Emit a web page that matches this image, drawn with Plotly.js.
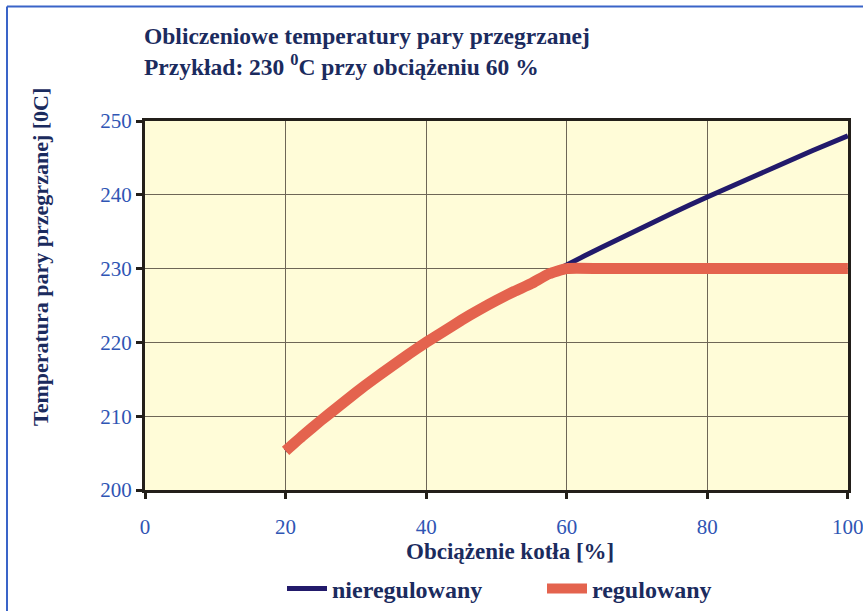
<!DOCTYPE html>
<html>
<head>
<meta charset="utf-8">
<script src="https://cdn.plot.ly/plotly-3.0.1.min.js"></script>
<style>html,body{margin:0;padding:0;background:#fff;}#chart{width:863px;height:611px;}</style>
</head>
<body>
<div id="chart"></div>
<script>
// Data
const loadUnreg = [20, 22.5, 25, 27.5, 30, 32.5, 35, 37.5, 40, 42.5, 45, 47.5, 50, 52.5, 55, 57.5, 60, 65, 70, 75, 80, 85, 90, 95, 100];
const tempUnreg = [205.3, 207.4, 209.4, 211.3, 213.2, 215.0, 216.7, 218.4, 220.0, 221.5, 223.0, 224.4, 225.7, 226.9, 228.1, 229.3, 230.5, 232.9, 235.2, 237.5, 239.7, 241.8, 243.9, 246.0, 248.0];
const loadReg = [20, 22.5, 25, 27.5, 30, 32.5, 35, 37.5, 40, 42.5, 45, 47.5, 50, 52.5, 55, 57.5, 60, 65, 70, 75, 80, 85, 90, 95, 100];
const tempReg = [205.3, 207.4, 209.4, 211.3, 213.2, 215.0, 216.7, 218.4, 220.0, 221.5, 223.0, 224.4, 225.7, 226.9, 228.0, 229.3, 230, 230, 230, 230, 230, 230, 230, 230, 230];
const seriesNames = ["nieregulowany", "regulowany"];
const xTicks = [0, 20, 40, 60, 80, 100];
const yTicks = [200, 210, 220, 230, 240, 250];
const xTitle = "Obciążenie kotła [%]";
const yTitle = "Temperatura pary przegrzanej [0C]";

const navy = "#1b2b5e";
const tickBlue = "#2f55b4";
const serif = "Liberation Serif, DejaVu Serif, serif";

const traces = [
  {x: loadUnreg, y: tempUnreg, name: seriesNames[0], mode: "lines",
   line: {color: "#221a6b", width: 5, shape: "spline", smoothing: 0.6}},
  {x: loadReg, y: tempReg, name: seriesNames[1], mode: "lines",
   line: {color: "#e4634e", width: 11, shape: "spline", smoothing: 0.5}}
];

const axisCommon = {
  showline: true, linecolor: "#231f1a", linewidth: 3, mirror: true,
  ticks: "outside", ticklen: 6, tickwidth: 3, tickcolor: "#231f1a",
  showgrid: true, gridcolor: "#6e6656", gridwidth: 1,
  zeroline: false, automargin: false,
  tickfont: {family: serif, size: 21, color: tickBlue}
};

// paper-coordinate helpers (plot area: x 145..848, y 121..490)
const px = v => (v - 145) / 703;
const py = v => (490 - v) / 369;

const layout = {
  width: 863, height: 611,
  margin: {l: 145, r: 15, t: 121, b: 121, autoexpand: false},
  paper_bgcolor: "#ffffff",
  plot_bgcolor: "#fffcd8",
  showlegend: true,
  title: {
    text: "<b>Obliczeniowe temperatury pary przegrzanej<br>Przykład: 230 <sup>0</sup>C przy obciążeniu 60 %</b>",
    font: {family: serif, size: 23.5, color: navy},
    xref: "container", yref: "container",
    x: 144/863, xanchor: "left",
    y: 1 - 44/611, yanchor: "top"
  },
  xaxis: Object.assign({}, axisCommon, {
    range: [0, 100.02], tickvals: xTicks, ticktext: xTicks.map(String),
    ticklabelstandoff: 10, ticklabeloverflow: "allow"
  }),
  yaxis: Object.assign({}, axisCommon, {
    range: [200, 250], tickvals: yTicks, ticktext: yTicks.map(String)
  }),
  annotations: [
    {text: "<b>" + xTitle + "</b>", xref: "paper", yref: "paper", x: px(510), y: py(551),
     xanchor: "center", yanchor: "middle", showarrow: false,
     font: {family: serif, size: 23, color: navy}},
    {text: "<b>" + yTitle + "</b>", xref: "paper", yref: "paper", x: px(40), y: py(257),
     xanchor: "center", yanchor: "middle", showarrow: false, textangle: -90,
     font: {family: serif, size: 22, color: navy}}
  ],
  legend: {
    orientation: "h", x: px(282), xanchor: "left", y: py(589), yanchor: "middle",
    font: {family: serif, size: 24, color: navy, weight: "bold"},
    bgcolor: "rgba(0,0,0,0)", itemwidth: 40,
    entrywidth: 205
  },
  shapes: [
    {type: "line", xref: "paper", yref: "paper", x0: px(7), x1: 1.05, y0: py(6.5), y1: py(6.5),
     line: {color: "#3a64c8", width: 2}},
    {type: "line", xref: "paper", yref: "paper", x0: px(7), x1: px(7), y0: py(6.5), y1: -0.4,
     line: {color: "#3a64c8", width: 2}}
  ]
};

Plotly.newPlot("chart", traces, layout, {displayModeBar: false, staticPlot: true});
</script>
</body>
</html>
